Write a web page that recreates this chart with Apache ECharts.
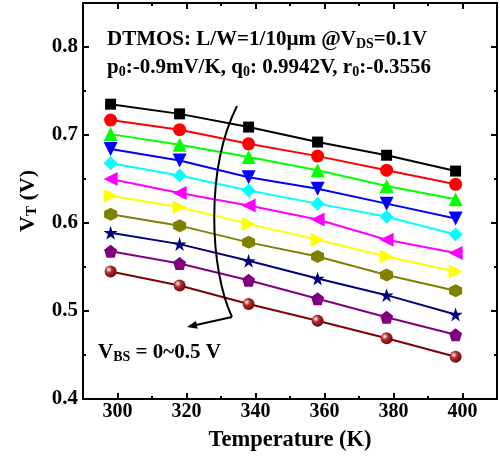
<!DOCTYPE html>
<html>
<head>
<meta charset="utf-8">
<script src="https://cdn.jsdelivr.net/npm/echarts@6/dist/echarts.min.js"></script>
<style>
html, body { margin: 0; padding: 0; background: #fff; }
#chart { width: 500px; height: 457px; }
</style>
</head>
<body>
<div id="chart"></div>
<script>
var temps = [298, 318, 338, 358, 378, 398];
var vbsNames = ['0V', '0.05V', '0.1V', '0.15V', '0.2V', '0.25V', '0.3V', '0.35V', '0.4V', '0.45V', '0.5V'];
var vt0   = [0.735, 0.724, 0.709, 0.692, 0.677, 0.659];
var vt005 = [0.717, 0.706, 0.690, 0.676, 0.660, 0.644];
var vt010 = [0.701, 0.689, 0.675, 0.660, 0.642, 0.627];
var vt015 = [0.684, 0.671, 0.652, 0.639, 0.622, 0.605];
var vt020 = [0.668, 0.654, 0.637, 0.622, 0.607, 0.587];
var vt025 = [0.650, 0.634, 0.620, 0.604, 0.581, 0.566];
var vt030 = [0.631, 0.618, 0.599, 0.581, 0.562, 0.545];
var vt035 = [0.610, 0.597, 0.578, 0.562, 0.541, 0.523];
var vt040 = [0.589, 0.576, 0.557, 0.537, 0.518, 0.496];
var vt045 = [0.568, 0.554, 0.535, 0.514, 0.493, 0.473];
var vt050 = [0.545, 0.529, 0.508, 0.489, 0.469, 0.448];
var allVt = [vt0, vt005, vt010, vt015, vt020, vt025, vt030, vt035, vt040, vt045, vt050];

var xMajor = [300, 320, 340, 360, 380, 400];
var xMinor = [310, 330, 350, 370, 390];
var yMajor = [0.4, 0.5, 0.6, 0.7, 0.8];
var yMinor = [0.45, 0.55, 0.65, 0.75];

var colors = ['#000000', '#ff0000', '#00ff00', '#0000ff', '#00ffff', '#ff00ff',
              '#ffff00', '#808000', '#000080', '#800080', '#800000'];
var hexagon = 'path://M0,-1L0.866,-0.5L0.866,0.5L0,1L-0.866,0.5L-0.866,-0.5Z';
var pentagon = 'path://M0,-1L0.951,-0.309L0.588,0.809L-0.588,0.809L-0.951,-0.309Z';
var star = 'path://M0,-1L0.225,-0.309L0.951,-0.309L0.363,0.118L0.588,0.809L0,0.382L-0.588,0.809L-0.363,0.118L-0.951,-0.309L-0.225,-0.309Z';
var symbols = ['rect', 'circle', 'triangle', 'triangle', 'diamond', 'triangle', 'triangle',
               hexagon, star, pentagon, 'circle'];
var rotates = [0, 0, 0, 180, 0, 90, -90, 0, 0, 0, 0];
var sizes = [11, 13, 14, 14, 14, 14, 14, 13, 14, 13, 12];

var serif = 'Liberation Serif';

var series = allVt.map(function (vals, i) {
    var color = colors[i];
    if (i === 10) {
        color = new echarts.graphic.RadialGradient(0.35, 0.35, 0.75, [
            { offset: 0, color: '#ffffff' },
            { offset: 0.35, color: '#b03030' },
            { offset: 1, color: '#600000' }
        ]);
    }
    return {
        name: vbsNames[i],
        type: 'line',
        xAxisIndex: 0,
        yAxisIndex: 0,
        data: temps.map(function (t, j) { return [t, vals[j]]; }),
        symbol: symbols[i],
        symbolRotate: rotates[i],
        symbolSize: sizes[i],
        itemStyle: { color: color, opacity: 1 },
        lineStyle: { color: colors[i], width: 2 },
        z: 3 + i
    };
});

function xAx(pos, ticks, len, label) {
    return {
        type: 'value', min: 290, max: 410, position: pos,
        axisLine: { show: true, onZero: false, lineStyle: { color: '#000', width: 2 } },
        axisTick: { show: true, inside: true, length: len, customValues: ticks, lineStyle: { color: '#000', width: 2 } },
        axisLabel: { show: label, customValues: ticks, color: '#000', fontFamily: serif, fontWeight: 'bold', fontSize: 20, margin: 3 },
        splitLine: { show: false }
    };
}
function yAx(pos, ticks, len, label) {
    return {
        type: 'value', min: 0.4, max: 0.85, position: pos,
        axisLine: { show: true, onZero: false, lineStyle: { color: '#000', width: 2 } },
        axisTick: { show: true, inside: true, length: len, customValues: ticks, lineStyle: { color: '#000', width: 2 } },
        axisLabel: { show: label, customValues: ticks, color: '#000', fontFamily: serif, fontWeight: 'bold', fontSize: 21, margin: 5,
                     formatter: function (v) { return v.toFixed(1); } },
        splitLine: { show: false }
    };
}

var rich = {
    b: { fontFamily: serif, fontWeight: 'bold', fontSize: 21, color: '#000' },
    s: { fontFamily: serif, fontWeight: 'bold', fontSize: 14, color: '#000', verticalAlign: 'bottom', padding: [9, 0, 0, 0] }
};
var richBig = {
    b: { fontFamily: serif, fontWeight: 'bold', fontSize: 22, color: '#000' },
    s: { fontFamily: serif, fontWeight: 'bold', fontSize: 15, color: '#000', verticalAlign: 'bottom', padding: [9, 0, 0, 0] }
};

var myChart = echarts.init(document.getElementById('chart'));
option = {
    backgroundColor: '#fff',
    animation: false,
    grid: { left: 83, right: 3, top: 3, bottom: 58, containLabel: false, outerBoundsMode: 'none' },
    xAxis: [
        xAx('bottom', xMajor, 6, true),
        xAx('top', xMajor, 6, false),
        xAx('bottom', xMinor, 3, false),
        xAx('top', xMinor, 3, false)
    ],
    yAxis: [
        yAx('left', yMajor, 6, true),
        yAx('right', yMajor, 6, false),
        yAx('left', yMinor, 3, false),
        yAx('right', yMinor, 3, false)
    ],
    series: series,
    graphic: [
        { type: 'text', x: 107, y: 40, z: 100,
          style: { text: '{b|DTMOS: L/W=1/10\u00b5m @V}{s|DS}{b|=0.1V}', rich: rich, verticalAlign: 'middle' } },
        { type: 'text', x: 107, y: 68, z: 100,
          style: { text: '{b|p}{s|0}{b|:-0.9mV/K, q}{s|0}{b|: 0.9942V, r}{s|0}{b|:-0.3556}', rich: rich, verticalAlign: 'middle' } },
        { type: 'text', x: 98, y: 353, z: 100,
          style: { text: '{b|V}{s|BS}{b| = 0~0.5 V}', rich: rich, verticalAlign: 'middle' } },
        { type: 'text', x: 28, y: 201, rotation: Math.PI / 2, z: 100,
          style: { text: '{b|V}{s|T}{b| (V)}', rich: richBig, align: 'center', verticalAlign: 'middle' } },
        { type: 'text', x: 290, y: 440, z: 100,
          style: { text: 'Temperature (K)', fontFamily: serif, fontWeight: 'bold', fontSize: 22.5, fill: '#000', align: 'center', verticalAlign: 'middle' } },
        { type: 'bezierCurve', z: 100,
          shape: { x1: 237, y1: 106, cpx1: 205, cpy1: 170, cpx2: 210, cpy2: 270, x2: 232, y2: 317 },
          style: { stroke: '#000', lineWidth: 2, fill: null } },
        { type: 'polyline', z: 100,
          shape: { points: [[232, 317], [196, 325]] },
          style: { stroke: '#000', lineWidth: 2 } },
        { type: 'polygon', z: 100,
          shape: { points: [[187, 327], [195.9, 320.9], [197.7, 328.7]] },
          style: { fill: '#000' } }
    ]
};
myChart.setOption(option);
</script>
</body>
</html>
